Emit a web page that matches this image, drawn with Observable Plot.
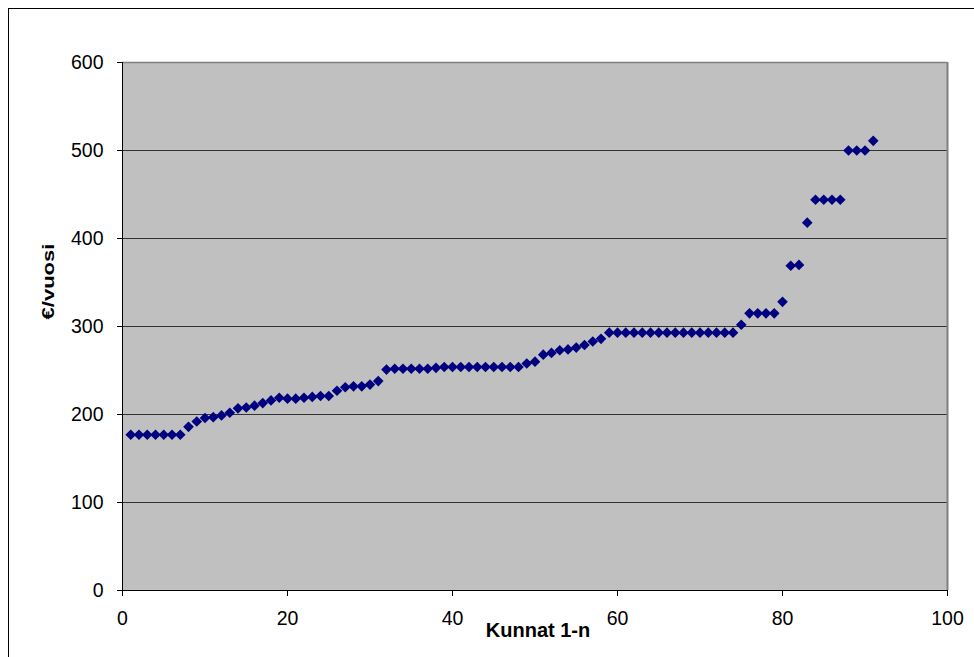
<!DOCTYPE html>
<html><head><meta charset="utf-8">
<script src="https://cdn.jsdelivr.net/npm/d3@7"></script>
<script src="https://cdn.jsdelivr.net/npm/@observablehq/plot@0.6"></script>
<style>
body{margin:0;background:#fff;}
#wrap{position:relative;width:974px;height:657px;overflow:hidden;}
#frame{position:absolute;left:8px;top:8px;width:990px;height:700px;border:1.5px solid #000;box-sizing:border-box}
#chart{position:absolute;left:0;top:0}
</style></head><body>
<div id="wrap"><div id="frame"></div><div id="chart"></div></div>
<script>
const municipalities = d3.range(1, 92);
const costs = [
  177,177,177,177,177,177,177,186,192,196,
  197,199,202,207,208,210,213,216,219,218,
  218,219,220,221,221,227,231,232,232,234,
  238,251,252,252,252,252,252,253,254,254,
  254,254,254,254,254,254,254,254,258,260,
  268,270,273,274,276,279,283,286,293,293,
  293,293,293,293,293,293,293,293,293,293,
  293,293,293,293,302,315,315,315,315,328,
  369,370,418,444,444,444,444,500,500,500,
  511
];
const xTicks = [0, 20, 40, 60, 80, 100];
const yTicks = [0, 100, 200, 300, 400, 500, 600];
const gridTicks = [100, 200, 300, 400, 500];
const xLabel = "Kunnat 1-n";
const yLabel = "€/vuosi";

const data = municipalities.map((k, i) => ({k, v: costs[i]}));

const plot = Plot.plot({
  width: 974, height: 657,
  marginLeft: 122, marginRight: 27, marginTop: 62, marginBottom: 67,
  style: {fontFamily: "'Liberation Sans', Arial, sans-serif", fontSize: "19.5px", color: "#000", background: "transparent", overflow: "visible"},
  x: {domain: [0, 100]},
  y: {domain: [0, 600]},
  marks: [
    Plot.frame({fill: "#c0c0c0", stroke: null}),
    Plot.gridY(gridTicks, {stroke: "#333", strokeOpacity: 1, strokeWidth: 1}),
    Plot.ruleY([600], {stroke: "#808080", strokeWidth: 1.5}),
    Plot.ruleX([100], {stroke: "#808080", strokeWidth: 2}),
    Plot.axisY(yTicks, {tickSize: 5, tickPadding: 14, label: null, fontSize: 19.5}),
    Plot.axisX(xTicks, {tickSize: 6, tickPadding: 15, label: null, fontSize: 19.5}),
    Plot.ruleX([0], {stroke: "#000"}),
    Plot.ruleY([0], {stroke: "#000"}),
    Plot.dot(data, {x: "k", y: "v", symbol: "diamond2", r: 4.8, fill: "#000080", stroke: null})
  ]
});

const svg = d3.select(plot);
svg.append("text")
  .attr("x", 538).attr("y", 637)
  .attr("text-anchor", "middle")
  .attr("font-weight", "bold")
  .attr("font-size", "20px")
  .attr("fill", "#000")
  .text(xLabel);
svg.append("text")
  .attr("transform", "translate(54,281.5) rotate(-90)")
  .attr("text-anchor", "middle")
  .attr("font-weight", "bold")
  .attr("font-size", "17px")
  .attr("fill", "#000")
  .attr("textLength", 76)
  .attr("lengthAdjust", "spacingAndGlyphs")
  .text(yLabel);

document.getElementById("chart").appendChild(plot);
</script>
</body></html>
